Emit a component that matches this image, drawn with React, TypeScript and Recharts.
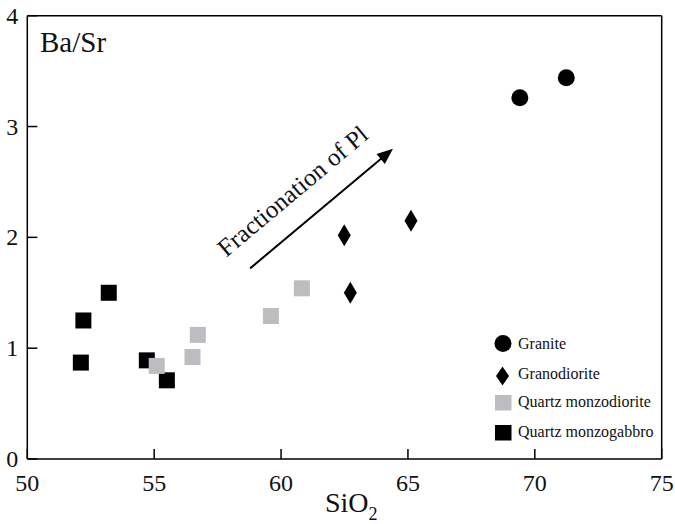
import React from 'react';
import { ScatterChart, Scatter, XAxis, YAxis, ReferenceLine, Legend } from 'recharts';

const FONT = '"Liberation Serif", "Times New Roman", Times, serif';

const xTicks = [50, 55, 60, 65, 70, 75];
const yTicks = [0, 1, 2, 3, 4];

const graniteData = [
  { x: 69.41, y: 3.26 },
  { x: 71.24, y: 3.44 },
];
const granodioriteData = [
  { x: 62.49, y: 2.02 },
  { x: 62.73, y: 1.5 },
  { x: 65.12, y: 2.15 },
];
const monzodioriteData = [
  { x: 55.1, y: 0.84 },
  { x: 56.51, y: 0.92 },
  { x: 56.72, y: 1.12 },
  { x: 59.6, y: 1.29 },
  { x: 60.82, y: 1.54 },
];
const monzogabbroData = [
  { x: 52.11, y: 0.87 },
  { x: 52.21, y: 1.25 },
  { x: 53.21, y: 1.5 },
  { x: 54.71, y: 0.89 },
  { x: 55.5, y: 0.71 },
];
const arrowSegment = [
  { x: 58.78, y: 1.72 },
  { x: 64.41, y: 2.8 },
];
const arrowText = 'Fractionation of Pl';
const legendLabels = ['Granite', 'Granodiorite', 'Quartz monzodiorite', 'Quartz monzogabbro'];

const GREY = '#bcbdc1';

const CircleShape = (p: any) => <circle cx={p.cx} cy={p.cy} r={8.5} fill="#000" />;
const DiamondShape = (p: any) => (
  <path d={`M${p.cx},${p.cy - 11} L${p.cx + 6.5},${p.cy} L${p.cx},${p.cy + 11} L${p.cx - 6.5},${p.cy} Z`} fill="#000" />
);
const GreySquare = (p: any) => <rect x={p.cx - 8} y={p.cy - 8} width={16} height={16} fill={GREY} />;
const BlackSquare = (p: any) => <rect x={p.cx - 8} y={p.cy - 8} width={16} height={16} fill="#000" />;

const YTick = (p: any) => (
  <g>
    <line x1={p.x} y1={p.y} x2={p.x + 10} y2={p.y} stroke="#000" strokeWidth={1.5} />
    <text x={p.x - 9} y={p.y} textAnchor="end" dominantBaseline="central" fontSize={24} style={{ fontFamily: FONT }} fill="#111">
      {p.payload.value}
    </text>
  </g>
);

const XTick = (p: any) => (
  <g>
    <line x1={p.x} y1={p.y} x2={p.x} y2={p.y - 10} stroke="#000" strokeWidth={1.5} />
    <text x={p.x} y={p.y + 24} textAnchor="middle" dominantBaseline="central" fontSize={24} style={{ fontFamily: FONT }} fill="#111">
      {p.payload.value}
    </text>
  </g>
);

const ArrowShape = (p: any) => {
  const { x1, y1, x2, y2 } = p;
  if ([x1, y1, x2, y2].some((v) => v == null || isNaN(v))) return null;
  const dx = x2 - x1;
  const dy = y2 - y1;
  const len = Math.hypot(dx, dy);
  const ux = dx / len;
  const uy = dy / len;
  const nx = uy;
  const ny = -ux;
  const headLen = 16;
  const headW = 6.5;
  const bx = x2 - ux * headLen;
  const by = y2 - uy * headLen;
  const angle = (Math.atan2(dy, dx) * 180) / Math.PI;
  const along = len * 0.42 + 4;
  const tx = x1 + ux * along + nx * 23.5;
  const ty = y1 + uy * along + ny * 23.5;
  return (
    <g>
      <line x1={x1} y1={y1} x2={bx + ux * 2} y2={by + uy * 2} stroke="#000" strokeWidth={2} />
      <path
        d={`M${x2},${y2} L${bx + nx * headW},${by + ny * headW} L${bx - nx * headW},${by - ny * headW} Z`}
        fill="#000"
      />
      <text
        x={tx}
        y={ty}
        textAnchor="middle"
        fontSize={25}
        style={{ fontFamily: FONT }}
        fill="#111"
        transform={`rotate(${angle}, ${tx}, ${ty})`}
      >
        {arrowText}
      </text>
    </g>
  );
};

const LegendContent = () => (
  <svg width={175} height={115} style={{ overflow: 'visible', display: 'block' }}>
    <circle cx={8} cy={10.5} r={8.5} fill="#000" />
    <path d="M7.5,33.5 L14,43 L7.5,52.5 L1,43 Z" fill="#000" />
    <rect x={0} y={62} width={16.5} height={15.5} fill={GREY} />
    <rect x={0} y={92} width={16.5} height={15.5} fill="#000" />
    {legendLabels.map((l, i) => (
      <text key={l} x={23} y={[15.5, 45.5, 74, 103.5][i]} fontSize={16} style={{ fontFamily: FONT }} fill="#111">
        {l}
      </text>
    ))}
  </svg>
);

const XLabel = (p: any) => {
  const vb = p.viewBox || {};
  const x = vb.x + vb.width / 2 - 19.5;
  const y = 511.7;
  return (
    <text x={x} y={y} fontSize={28} style={{ fontFamily: FONT }} fill="#111">
      SiO
      <tspan fontSize={18} dy={8}>2</tspan>
    </text>
  );
};

const YLabel = (p: any) => {
  const vb = p.viewBox || {};
  return (
    <text x={vb.x + vb.width + 12.7} y={vb.y + 36} fontSize={29} style={{ fontFamily: FONT }} fill="#111">
      Ba/Sr
    </text>
  );
};

export default function App() {
  return (
    <div style={{ width: 675, height: 524, position: 'absolute', left: 0, top: 0, background: '#fff' }}>
      <ScatterChart width={675} height={524} margin={{ top: 15.7, right: 13.3, left: 0, bottom: 35 }}>
        <XAxis
          type="number"
          dataKey="x"
          domain={[50, 75]}
          ticks={xTicks}
          allowDataOverflow
          height={30}
          tickSize={0}
          tickMargin={0}
          tickLine={false}
          tick={<XTick />}
          axisLine={{ stroke: '#000', strokeWidth: 1.5 }}
          label={{ content: <XLabel /> }}
          interval={0}
        />
        <YAxis
          type="number"
          dataKey="y"
          domain={[0, 4]}
          ticks={yTicks}
          allowDataOverflow
          width={27.3}
          tickSize={0}
          tickMargin={0}
          tickLine={false}
          tick={<YTick />}
          axisLine={{ stroke: '#000', strokeWidth: 1.5 }}
          label={{ content: <YLabel /> }}
          interval={0}
        />
        <ReferenceLine y={4} stroke="#000" strokeWidth={1.5} />
        <ReferenceLine x={75} stroke="#000" strokeWidth={1.5} />
        <ReferenceLine segment={arrowSegment} shape={<ArrowShape />} />
        <Scatter name="Quartz monzogabbro" data={monzogabbroData} shape={<BlackSquare />} fill="#000" isAnimationActive={false} />
        <Scatter name="Quartz monzodiorite" data={monzodioriteData} shape={<GreySquare />} fill={GREY} isAnimationActive={false} />
        <Scatter name="Granodiorite" data={granodioriteData} shape={<DiamondShape />} fill="#000" isAnimationActive={false} />
        <Scatter name="Granite" data={graniteData} shape={<CircleShape />} fill="#000" isAnimationActive={false} />
        <Legend
          layout="vertical"
          align="center"
          verticalAlign="middle"
          content={<LegendContent />}
          wrapperStyle={{ position: 'absolute', left: 495, top: 333, width: 175, height: 115 }}
        />
      </ScatterChart>
    </div>
  );
}
